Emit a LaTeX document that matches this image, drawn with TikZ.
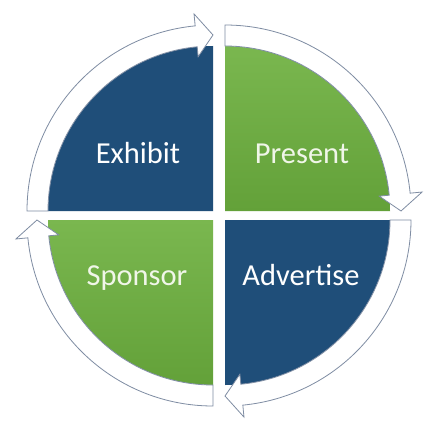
\documentclass[tikz,border=0pt]{standalone}
\usepackage{fontspec}
\setmainfont{Carlito}
\definecolor{quadblue}{HTML}{1F4E79}
\definecolor{gtop}{HTML}{7AB74F}
\definecolor{gbot}{HTML}{63A139}
\definecolor{arrowgray}{HTML}{7F8DA3}
\definecolor{greentext}{HTML}{F0F6E8}
\newcommand\cyclearrow[3]{%
  \begin{scope}[shift={(#1,#2)}]
    \draw[arrowband] (#3:186) arc[start angle=#3, end angle={#3-84.5}, radius=186]
      -- ({#3-84.5}:198) -- ({#3-90}:176) -- ({#3-84.5}:155) -- ({#3-84.5}:165)
      arc[start angle={#3-84.5}, end angle=#3, radius=165] -- cycle;
  \end{scope}}
\begin{document}
\begin{tikzpicture}[x=1pt,y=1pt,
  arrowband/.style={fill=white, draw=arrowgray, line width=0.8pt, line join=miter},
  bluequad/.style={fill=quadblue},
  greenquad/.style={top color=gtop, bottom color=gbot},
  quadlabel/.style={anchor=base, font=\fontsize{30.5}{36}\selectfont, inner sep=0pt}]
\useasboundingbox (0,0) rectangle (436,432);
\fill[white] (0,0) rectangle (436,432);
% quarter discs
\fill[bluequad] (213,221) -- ++(180:165) arc[start angle=180, end angle=90, radius=165] -- cycle;
\shade[greenquad] (225,221) -- ++(90:165) arc[start angle=90, end angle=0, radius=165] -- cycle;
\fill[bluequad] (225,212) -- ++(0:165) arc[start angle=0, end angle=-90, radius=165] -- cycle;
\shade[greenquad] (213,212) -- ++(-90:165) arc[start angle=-90, end angle=-180, radius=165] -- cycle;
% circular arrows
\cyclearrow{213}{221}{180}
\cyclearrow{225}{221}{90}
\cyclearrow{225}{212}{0}
\cyclearrow{213}{212}{-90}
% labels
\node[quadlabel, text=white] (exhibit) at (138,269) {Exhibit};
\node[quadlabel, text=greentext] (present) at (302,269) {Present};
\node[quadlabel, text=greentext] (sponsor) at (137,147) {Sponsor};
\node[quadlabel, text=white] (advertise) at (301,147) {Advertise};
\end{tikzpicture}
\end{document}
